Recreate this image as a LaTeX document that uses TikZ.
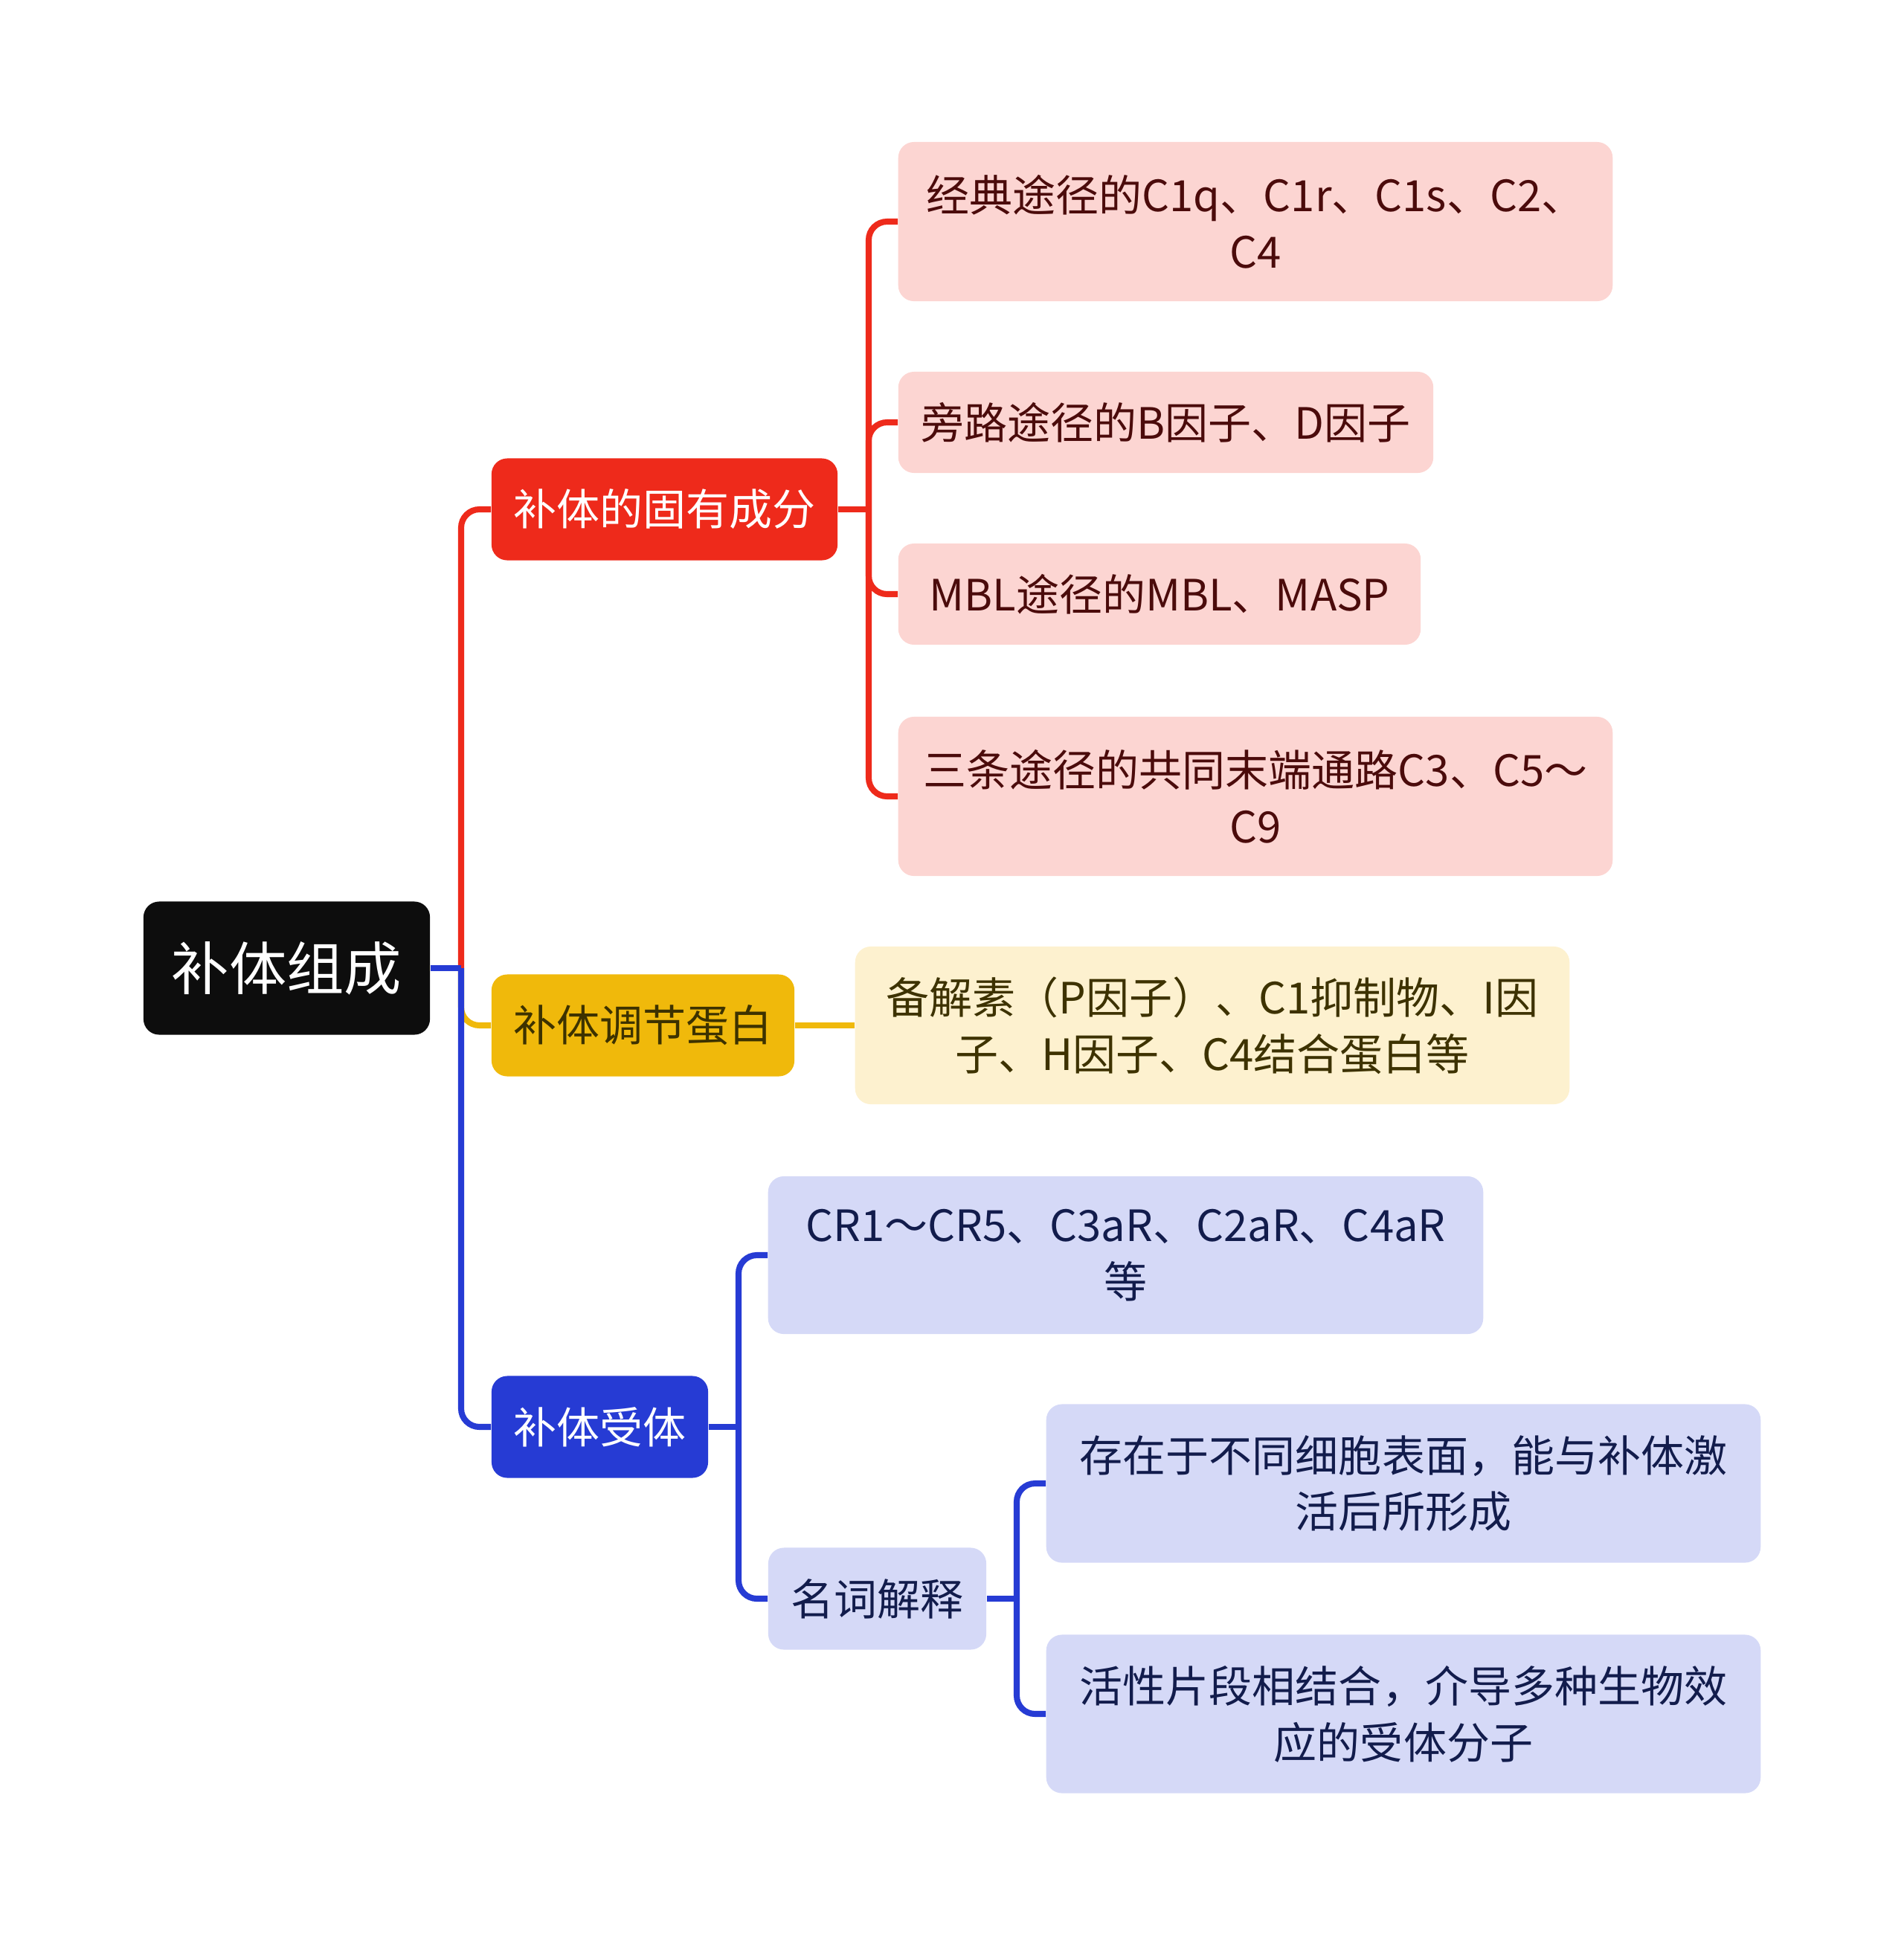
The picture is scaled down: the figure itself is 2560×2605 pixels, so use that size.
\documentclass[tikz,border=0pt]{standalone}
\usepackage{fontspec}
\setmainfont{Noto Sans CJK SC}
\usepackage{tikz}
\usetikzlibrary{positioning}
\usepackage{xcolor}
\definecolor{rootblack}{HTML}{0D0D0D}
\definecolor{mainred}{HTML}{EE2A1B}
\definecolor{mainyellow}{HTML}{F0B90B}
\definecolor{mainblue}{HTML}{263BD4}
\definecolor{pinkfill}{HTML}{FCD5D2}
\definecolor{creamfill}{HTML}{FDF1CF}
\definecolor{lavfill}{HTML}{D5D9F7}
\definecolor{pinktext}{HTML}{4B0B0B}
\definecolor{creamtext}{HTML}{3D3200}
\definecolor{lavtext}{HTML}{121C4C}

\tikzset{
  box/.style={rounded corners=6pt, align=center, inner sep=0pt,
    font=\fontsize{16.5}{21.6}\selectfont},
  rootbox/.style={box, fill=rootblack, text=white,
    font=\fontsize{22}{26}\selectfont, minimum width=3.85cm, minimum height=1.79cm},
  redbox/.style={box, fill=mainred, text=white, minimum height=1.37cm},
  yellowbox/.style={box, fill=mainyellow, text=creamtext, minimum height=1.37cm},
  bluebox/.style={box, fill=mainblue, text=white, minimum height=1.37cm},
  pinkleaf/.style={box, fill=pinkfill, text=pinktext},
  creamleaf/.style={box, fill=creamfill, text=creamtext},
  lavleaf/.style={box, fill=lavfill, text=lavtext},
  link/.style={line width=2.3pt, rounded corners=7pt},
  stub/.style={line width=2.3pt},
}

\begin{document}
\begin{tikzpicture}[x=0.01cm, y=-0.01cm]
    \useasboundingbox (0,0) rectangle (2560,2605);

    % main level
    \node[rootbox] (root) at (385.5,1302) {补体组成};
    \node[redbox, minimum width=4.65cm] (inherent) at (893.5,685) {补体的固有成分};
    \node[yellowbox, minimum width=4.07cm] (regulator) at (864.5,1379) {补体调节蛋白};
    \node[bluebox, minimum width=2.91cm] (receptor) at (806.5,1919) {补体受体};

    % inherent components
    \node[pinkleaf, minimum width=9.6cm, minimum height=2.14cm] (classic) at (1688,298) {经典途径的C1q、C1r、C1s、C2、\\C4};
    \node[pinkleaf, minimum width=7.19cm, minimum height=1.36cm] (bypass) at (1567.5,568) {旁路途径的B因子、D因子};
    \node[pinkleaf, minimum width=7.02cm, minimum height=1.36cm] (mbl) at (1559,799) {MBL途径的MBL、MASP};
    \node[pinkleaf, minimum width=9.6cm, minimum height=2.14cm] (terminal) at (1688,1071) {三条途径的共同末端通路C3、C5～\\C9};

    % regulators
    \node[creamleaf, minimum width=9.6cm, minimum height=2.12cm] (regitems) at (1630,1379) {备解素（P因子）、C1抑制物、I因\\子、H因子、C4结合蛋白等};

    % receptors
    \node[lavleaf, minimum width=9.61cm, minimum height=2.12cm] (crlist) at (1513.5,1688) {CR1～CR5、C3aR、C2aR、C4aR\\等};
    \node[lavleaf, minimum width=2.93cm, minimum height=1.37cm] (term) at (1179.5,2150) {名词解释};
    \node[lavleaf, minimum width=9.6cm, minimum height=2.13cm] (defone) at (1887,1995) {存在于不同细胞表面，能与补体激\\活后所形成};
    \node[lavleaf, minimum width=9.6cm, minimum height=2.13cm] (deftwo) at (1887,2305) {活性片段相结合，介导多种生物效\\应的受体分子};

    % junction points
    \coordinate (rootjoin) at (620,1302);
    \coordinate (inhjoin) at (1168,685);
    \coordinate (recjoin) at (993,1919);
    \coordinate (termjoin) at (1367,2150);

    % connectors
    \draw[link, mainred] (rootjoin) |- (inherent.west);
    \draw[link, mainyellow] (rootjoin) |- (regulator.west);
    \draw[link, mainblue] (rootjoin) |- (receptor.west);
    \draw[stub, mainblue] (root.east) -- (rootjoin);

    \foreach \leaf in {classic, bypass, mbl, terminal}
        \draw[link, mainred] (inhjoin) |- (\leaf.west);
    \draw[stub, mainred] (inherent.east) -- (inhjoin);

    \draw[stub, mainyellow] (regulator.east) -- (regitems.west);

    \foreach \leaf in {crlist, term}
        \draw[link, mainblue] (recjoin) |- (\leaf.west);
    \draw[stub, mainblue] (receptor.east) -- (recjoin);
    \foreach \leaf in {defone, deftwo}
        \draw[link, mainblue] (termjoin) |- (\leaf.west);
    \draw[stub, mainblue] (term.east) -- (termjoin);
\end{tikzpicture}
\end{document}
